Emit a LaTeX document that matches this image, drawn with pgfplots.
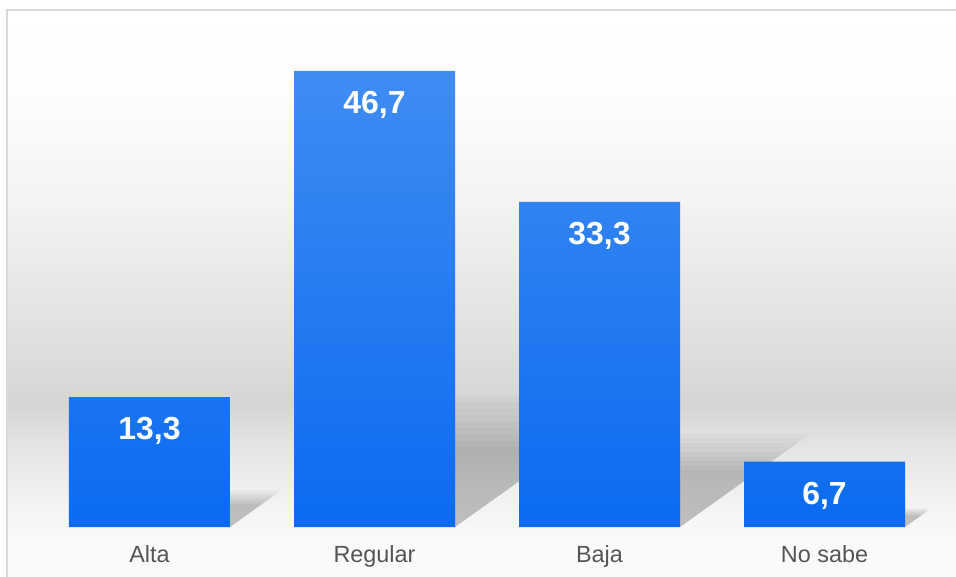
\documentclass[border=0pt]{standalone}
\usepackage{fontspec}
\setmainfont{Liberation Sans}
\usepackage{pgfplots}
\pgfplotsset{compat=1.18}
\definecolor{bartop}{HTML}{408CF3}
\definecolor{barbot}{HTML}{0A6BF0}
\definecolor{framec}{HTML}{D9D9D9}
\definecolor{labc}{HTML}{555555}
% stops mapped into the 25bp..75bp band that TikZ fits to the path
\pgfdeclareverticalshading{bgshade}{100bp}{%
  color(0bp)=(white!98!black);
  color(25bp)=(white!98!black);
  color(28.25bp)=(white!98!black);
  color(30.65bp)=(white!96!black);
  color(33.3bp)=(white!93.5!black);
  color(36.2bp)=(white!90!black);
  color(38.4bp)=(white!86.5!black);
  color(40.15bp)=(white!83.5!black);
  color(41.95bp)=(white!85!black);
  color(49.45bp)=(white!90!black);
  color(58.25bp)=(white!95.5!black);
  color(67.05bp)=(white!99!black);
  color(75bp)=(white);
  color(100bp)=(white)}
\newcommand\shadowtri[4]{\fill[black, opacity=#4] (axis cs:#1,0) -- (axis cs:#1,#2) -- (axis cs:#1+#3,#2) -- cycle;}
\newcommand\shadowset[2]{%
  \shadowtri{0.3578}{3.13*#1}{0.19*#1}{#2}%
  \shadowtri{1.3578}{10.97*#1}{0.667*#1}{#2}%
  \shadowtri{2.3578}{7.83*#1}{0.475*#1}{#2}%
  \shadowtri{3.3578}{1.57*#1}{0.095*#1}{#2}}
\begin{document}
\begin{tikzpicture}
% background panel and frame
\shade[shading=bgshade] (7bp,0) rectangle (956bp,567bp);
\draw[framec, line width=2bp] (7bp,0) -- (7bp,567bp) -- (956bp,567bp);
\begin{axis}[
  at={(0,0)}, anchor=south west,
  scale only axis, width=956bp, height=577bp,
  xmin=-0.6644, xmax=3.5844, ymin=-5.12, ymax=53.97,
  axis line style={draw=none},
  major tick length=0pt,
  ytick=\empty,
  xtick={0,1,2,3},
  xticklabels={Alta,Regular,Baja,No sabe},
  xticklabel style={anchor=base, yshift=14.5bp, inner sep=0pt,
    font=\fontsize{23.5}{26}\selectfont, text=labc},
  clip=false,
  /pgf/number format/.cd, use comma, fixed, fixed zerofill, precision=1, assume math mode=true,
]
% soft shadows
\shadowset{1.22}{0.022}
\shadowset{1.16}{0.022}
\shadowset{1.10}{0.024}
\shadowset{1.04}{0.024}
\shadowset{0.98}{0.026}
\shadowset{0.92}{0.026}
\shadowset{0.86}{0.028}
\shadowset{0.80}{0.028}
\shadowset{0.74}{0.03}
\addplot[ybar, bar width=161bp, draw=none, top color=bartop, bottom color=barbot,
  nodes near coords,
  nodes near coords style={anchor=north, yshift=-20bp, inner sep=0pt, text=white,
    font=\bfseries\fontsize{32}{32}\selectfont}]
  coordinates {(0,13.3) (1,46.7) (2,33.3) (3,6.7)};
\end{axis}
\pgfresetboundingbox
\path[use as bounding box] (0,0) rectangle (956bp,577bp);
\end{tikzpicture}
\end{document}
